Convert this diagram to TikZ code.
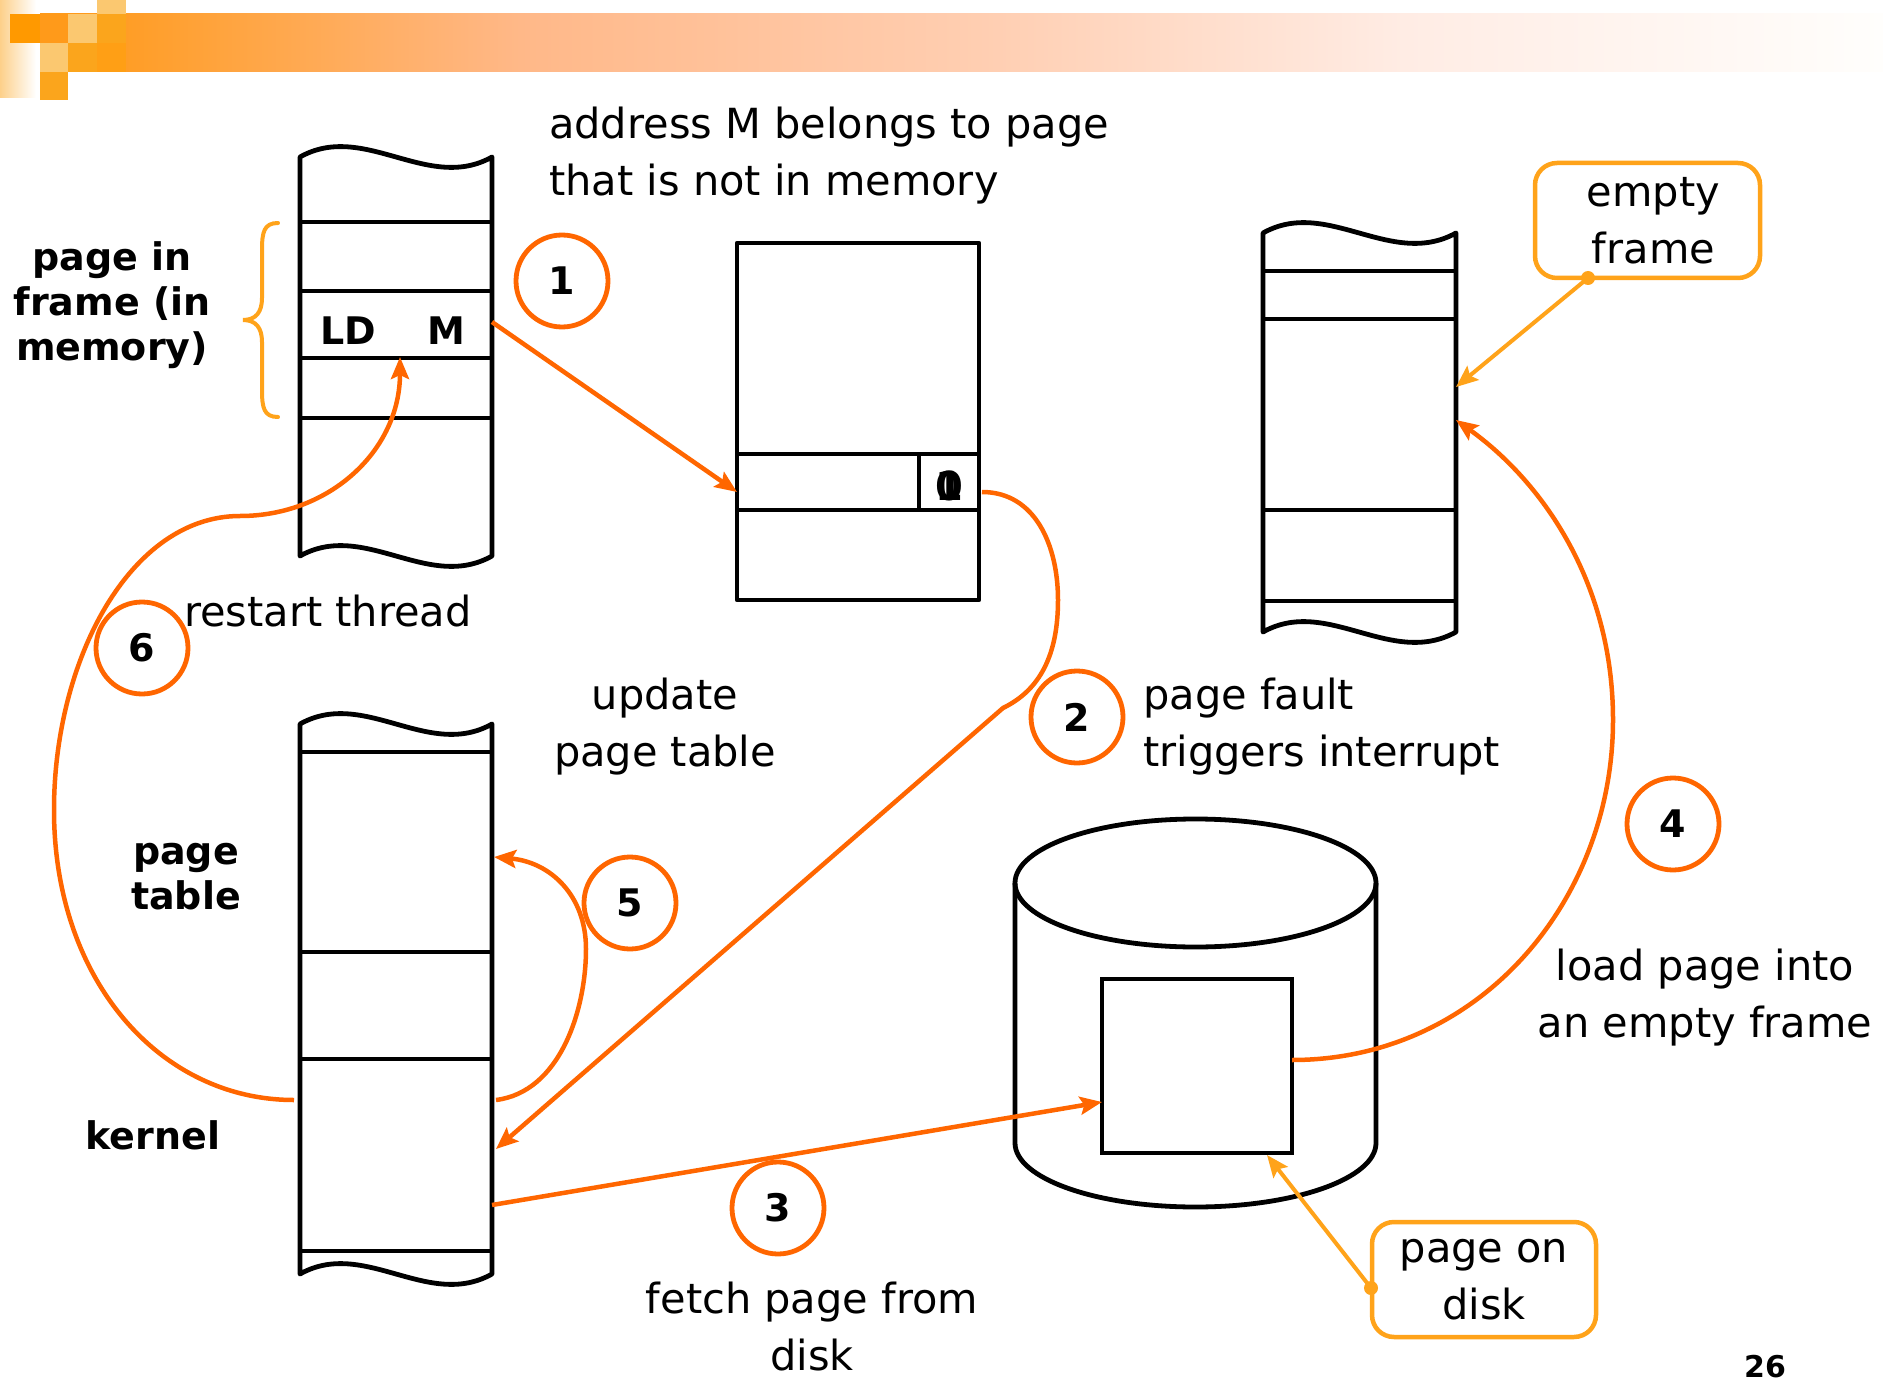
\documentclass[tikz,border=0pt]{standalone}
\usepackage{fontspec}
\setmainfont{DejaVu Sans}
\usetikzlibrary{arrows.meta}

\definecolor{flow}{HTML}{FF6600}
\definecolor{note}{HTML}{FFA31A}
\definecolor{banA}{HTML}{FF9A1A}
\definecolor{banB}{HTML}{FFB888}
\definecolor{banC}{HTML}{FFCFB3}
\definecolor{banD}{HTML}{FFECE4}
\definecolor{banE}{HTML}{FFFEFC}
\definecolor{sqLight}{HTML}{FBC870}
\definecolor{sqDeep}{HTML}{FF9900}
\definecolor{sqMid}{HTML}{FBA51C}
\definecolor{sqWarm}{HTML}{FF9F15}
\definecolor{stripTone}{HTML}{FDD08A}

\pgfdeclarehorizontalshading{bannerfade}{100bp}{color(0bp)=(banA); color(25bp)=(banA); color(26bp)=(banA); color(38bp)=(banB); color(51bp)=(banC); color(62bp)=(banD); color(75bp)=(banE); color(100bp)=(banE)}

\newcommand\txtR{\fontsize{41.5}{57}\selectfont}
\newcommand\txtB{\fontsize{38}{45}\selectfont\bfseries}

\begin{document}
\begin{tikzpicture}[x=1pt,y=-1pt,
  colline/.style={line width=4.8pt, line join=round},
  flowline/.style={draw=flow, line width=4.5pt},
  flowarrow/.style={flowline, -{Stealth[length=22pt,width=18pt,inset=4pt]}},
  notearrow/.style={draw=note, line width=4pt, -{Stealth[length=22pt,width=18pt,inset=4pt]}},
  stepnum/.style={circle, draw=flow, line width=4.8pt, minimum size=92pt, inner sep=0pt, font=\fontsize{38}{45}\selectfont\bfseries},
  callout/.style={draw=note, line width=4.5pt, rounded corners=22pt, align=center, font=\txtR, inner sep=0pt},
  rtext/.style={font=\txtR, inner sep=0pt},
  btext/.style={font=\txtB, inner sep=0pt}]

\useasboundingbox (0,0) rectangle (1883,1383);
\fill[white] (0,0) rectangle (1883,1383);

% title banner
\shade[left color=stripTone, right color=white] (0,0) rectangle (36,98);
\shade[shading=bannerfade] (40,14) rectangle (1883,72);
\fill[sqLight] (97,0) rectangle (126,14);
\fill[sqMid] (97,14) rectangle (126,43);
\fill[sqLight] (68,14) rectangle (97,43);
\fill[sqDeep] (10,14) rectangle (40,43);
\fill[sqLight] (40,43) rectangle (68,72);
\fill[sqMid] (68,43) rectangle (97,72);
\fill[sqWarm] (97,43) rectangle (126,72);
\fill[sqMid] (40,72) rectangle (68,100);

% process memory column
\draw[colline] (300,157) .. controls (364,121) and (428,193) .. (492,157) -- (492,556)
  .. controls (428,592) and (364,520) .. (300,556) -- cycle;
\foreach \yy in {222,291,358,418} \draw[colline] (300,\yy) -- (492,\yy);
\node[btext, anchor=base] (ld) at (348,344) {LD};
\node[btext, anchor=base] (mm) at (446,344) {M};

% brace for the frame
\draw[note, line width=4pt, line cap=round] (278,223) .. controls (264,223) and (262,232) .. (262,250) -- (262,298)
  .. controls (262,312) and (256,320) .. (243,320) .. controls (256,320) and (262,328) .. (262,342) -- (262,390)
  .. controls (262,408) and (264,417) .. (278,417);
\node[btext, align=center, anchor=base] (pif) at (112,360) {page in\\frame (in\\memory)};

% page table (top)
\draw[colline] (737,243) rectangle (979,600);
\draw[colline] (737,454) -- (979,454);
\draw[colline] (737,510) -- (979,510);
\draw[colline] (919,454) -- (919,510);
\node[font=\fontsize{40}{45}\selectfont\bfseries, inner sep=0pt, anchor=base] (bit0) at (949,500) {0};
\node[font=\fontsize{40}{45}\selectfont\bfseries, inner sep=0pt, anchor=base] (bit1) at (949,500) {1};
\node[rtext, align=left, anchor=base west] (addr) at (549,196) {address M belongs to page\\that is not in memory};

% physical frames column
\draw[colline] (1263,233) .. controls (1327,197) and (1391,269) .. (1456,233) -- (1456,632)
  .. controls (1391,668) and (1327,596) .. (1263,632) -- cycle;
\foreach \yy in {271,319,510,601} \draw[colline] (1263,\yy) -- (1456,\yy);
\node[callout, minimum width=225pt, minimum height=115pt] (ef) at (1647.5,220.5) {\hspace*{12pt}empty\\\hspace*{12pt}frame};

% kernel column
\draw[colline] (300,724) .. controls (364,688) and (428,760) .. (492,724) -- (492,1274)
  .. controls (428,1310) and (364,1238) .. (300,1274) -- cycle;
\foreach \yy in {752,952,1059,1251} \draw[colline] (300,\yy) -- (492,\yy);
\node[btext, align=center, anchor=base] (ptl) at (186,909) {page\\table};
\node[btext, anchor=base] (kern) at (153,1149) {kernel};

% disk
\draw[colline] (1195.5,883) ellipse [x radius=180.5pt, y radius=64pt];
\draw[colline] (1015,883) -- (1015,1143) arc[start angle=180, end angle=360, x radius=180.5pt, y radius=64pt] -- (1376,883);
\node[draw, line width=4.8pt, minimum width=190pt, minimum height=174pt, inner sep=0pt] (dpage) at (1197,1066) {};
\node[callout, minimum width=224pt, minimum height=115pt] (pod) at (1484,1279.5) {page on\\disk};

% attachment points
\coordinate (ldm-out) at (492,322);
\coordinate (pte-in) at (737,492);
\coordinate (bit-out) at (982,492);
\coordinate (trap) at (1003,708);
\coordinate (kern-in) at (496,1149);
\coordinate (kern-out) at (492,1205);
\coordinate (disk-in) at (1102,1102);
\coordinate (disk-out) at (1292,1060);
\coordinate (frame-in) at (1456,420);
\coordinate (kern-up) at (496,1100);
\coordinate (pt-in) at (494,857);
\coordinate (kern-left) at (294,1100);
\coordinate (ld-in) at (400,357);
\coordinate (ef-dot) at (1588,278);
\coordinate (frame-note) at (1456,387);
\coordinate (pod-dot) at (1371,1288);
\coordinate (dpage-note) at (1267,1155);

% step 1: reference to M
\draw[flowarrow] (ldm-out) -- (pte-in);
% step 2: invalid bit traps to kernel
\draw[flowarrow] (bit-out) .. controls (1035,492) and (1058,545) .. (1058,600)
  .. controls (1058,655) and (1040,690) .. (trap) -- (kern-in);
% step 3: fetch from disk
\draw[flowarrow] (kern-out) -- (disk-in);
% step 4: load into frame
\draw[flowarrow] (disk-out) .. controls (1480,1060) and (1613,900) .. (1613,720)
  .. controls (1613,580) and (1540,480) .. (frame-in);
% step 5: update page table
\draw[flowarrow] (kern-up) .. controls (560,1092) and (586,1010) .. (586,949)
  .. controls (586,895) and (550,862) .. (pt-in);
% step 6: restart thread
\draw[flowarrow] (kern-left) .. controls (160,1100) and (54,980) .. (54,810)
  .. controls (54,660) and (130,516) .. (240,516)
  .. controls (330,516) and (400,450) .. (ld-in);

% call-out pointers
\draw[notearrow] (ef-dot) -- (frame-note);
\fill[note] (ef-dot) circle (7pt);
\draw[notearrow] (pod-dot) -- (dpage-note);
\fill[note] (pod-dot) circle (7pt);

% step markers
\node[stepnum] (c1) at (562,281) {1};
\node[stepnum] (c2) at (1077,717) {2};
\node[stepnum] (c3) at (778,1208) {3};
\node[stepnum] (c4) at (1673,824) {4};
\node[stepnum] (c5) at (630,903) {5};
\node[stepnum] (c6) at (142,648) {6};

% step captions
\node[rtext, align=left, anchor=base west] (fault) at (1143,766) {page fault\\triggers interrupt};
\node[rtext, align=center, anchor=base] (upd) at (665,766) {update\\page table};
\node[rtext, anchor=base west] (rst) at (184,626) {restart thread};
\node[rtext, align=center, anchor=base] (fetch) at (812,1370) {fetch page from\\disk};
\node[rtext, align=center, anchor=base] (load) at (1705,1037) {load page into\\an empty frame};

\node[font=\fontsize{30}{34}\selectfont\bfseries, inner sep=0pt, anchor=base] (pgno) at (1765,1377) {26};
\end{tikzpicture}
\end{document}
